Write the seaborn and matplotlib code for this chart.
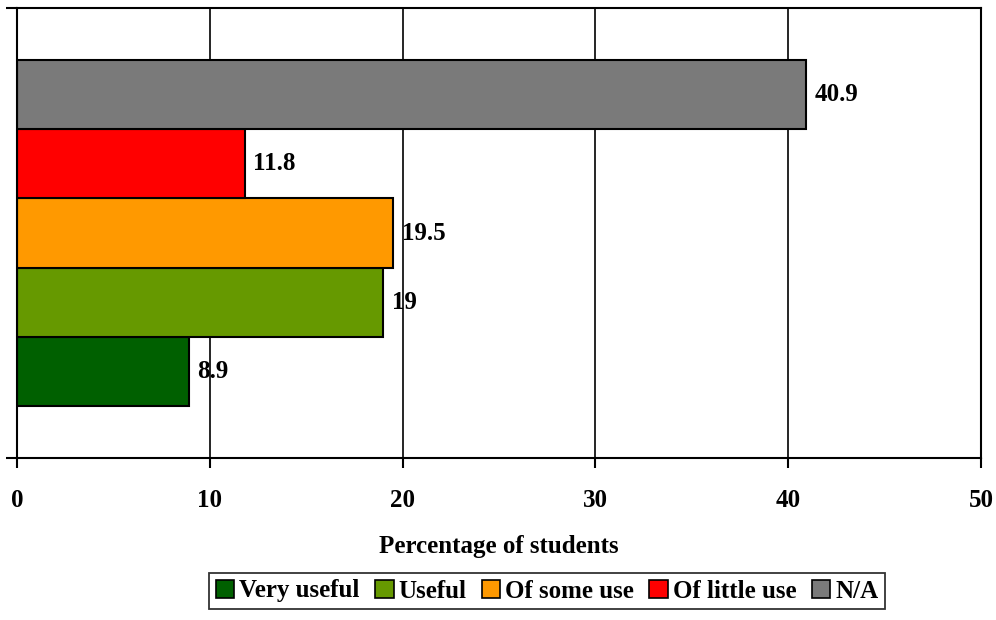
import matplotlib
matplotlib.use("Agg")
import matplotlib.pyplot as plt
import seaborn as sns
import pandas as pd

# Data
categories = ["Very useful", "Useful", "Of some use", "Of little use", "N/A"]
percentages = [8.9, 19, 19.5, 11.8, 40.9]
labels = ["8.9", "19", "19.5", "11.8", "40.9"]
colors = ["#006000", "#669900", "#FF9900", "#FF0000", "#7A7A7A"]
x_ticks = [0, 10, 20, 30, 40, 50]

df = pd.DataFrame({"group": [""] * len(categories),
                   "response": categories,
                   "pct": percentages})

sns.set_style("white")
SERIF = "Liberation Serif"
plt.rcParams["font.family"] = [SERIF, "DejaVu Serif"]
plt.rcParams["font.weight"] = "bold"
plt.rcParams["text.color"] = "black"
plt.rcParams["xtick.labelcolor"] = "black"
plt.rcParams["axes.labelcolor"] = "black"

fig = plt.figure(figsize=(9.96, 6.2), dpi=100)
ax = fig.add_axes([17 / 996, 1 - 458 / 620, (981 - 17) / 996, (458 - 8) / 620])

sns.barplot(data=df, y="group", x="pct", hue="response", hue_order=categories,
            palette=colors, saturation=1, orient="h", width=0.767, gap=0, dodge=True,
            edgecolor="black", linewidth=1.5, legend=False, ax=ax)

# first hue level at the bottom, like the original
ax.set_ylim(-0.5, 0.5)
ax.set_xlim(0, 50)

for bar, lab in zip(ax.patches, labels):
    y = bar.get_y() + bar.get_height() / 2
    ax.text(bar.get_width() + 0.45, y, lab, va="center", ha="left", color="black",
            family=SERIF, fontsize=18, fontweight="bold")

ax.set_xticks(x_ticks)
ax.set_xticklabels([str(t) for t in x_ticks], family=SERIF, fontsize=18,
                   fontweight="bold", color="black")
ax.set_yticks([-0.5, 0.5])
ax.set_yticklabels(["", ""])
ax.tick_params(axis="x", bottom=True, direction="out", length=7, width=1.5,
               color="black", pad=15)
ax.tick_params(axis="y", left=True, direction="out", length=8, width=1.5, color="black")
ax.set_ylabel("")
ax.set_xlabel("Percentage of students", family=SERIF, fontsize=18,
              fontweight="bold", labelpad=17, color="black")

ax.grid(False)
for t in x_ticks[1:-1]:
    ax.axvline(t, color="black", linewidth=1.2, zorder=0)
for s in ax.spines.values():
    s.set_visible(True)
    s.set_color("black")
    s.set_linewidth(1.5)

handles = [plt.Rectangle((0, 0), 1, 1, facecolor=c, edgecolor="black", linewidth=1.2)
           for c in colors]
leg = fig.legend(handles, categories, loc="center", bbox_to_anchor=(547 / 996, 1 - 591 / 620),
                 ncol=5, frameon=True, fancybox=False, edgecolor="black",
                 prop={"family": SERIF, "weight": "bold", "size": 18},
                 handlelength=0.75, handleheight=0.75, handletextpad=0.2,
                 columnspacing=0.6, borderpad=0.25, borderaxespad=0)
leg.get_frame().set_linewidth(1.3)
for t in leg.get_texts():
    t.set_color("black")

fig.savefig("out.png", dpi=100)
